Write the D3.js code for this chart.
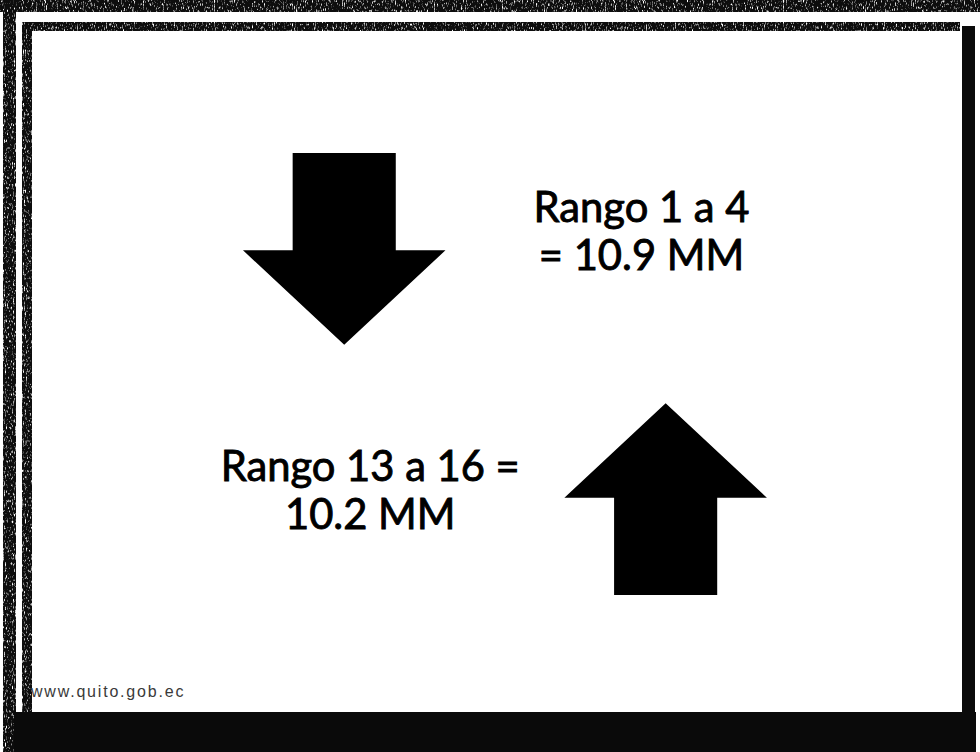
<!DOCTYPE html>
<html>
<head>
<meta charset="utf-8">
<script src="https://cdn.jsdelivr.net/npm/d3@7"></script>
<style>
  html, body { margin: 0; padding: 0; background: #fff; }
  svg { display: block; }
</style>
</head>
<body>
<script>
var width = 980;
var height = 752;

// slide content
var ranges = ['1 a 4', '13 a 16'];
var amounts = [10.9, 10.2];
var directions = ['down', 'up'];
var footer = 'www.quito.gob.ec';

var svg = d3.select('body')
    .append('svg')
    .attr('width', width)
    .attr('height', height);

// scanned-paper speckle
var defs = svg.append('defs');
var filt = defs.append('filter').attr('id', 'scan')
    .attr('x', 0).attr('y', 0).attr('width', 1).attr('height', 1);
filt.append('feTurbulence')
    .attr('type', 'fractalNoise')
    .attr('baseFrequency', '0.9 0.3')
    .attr('numOctaves', 2)
    .attr('seed', 4)
    .attr('result', 'n');
filt.append('feColorMatrix')
    .attr('in', 'n')
    .attr('type', 'matrix')
    .attr('values', '0 0 0 0 0  0 0 0 0 0  0 0 0 0 0  0 0 0 -4 3.2')
    .attr('result', 'm');
filt.append('feComposite')
    .attr('in', 'SourceGraphic')
    .attr('in2', 'm')
    .attr('operator', 'in');

svg.append('rect')
    .attr('width', width)
    .attr('height', height)
    .attr('fill', '#fff');

// frame of the scanned slide
var frame = svg.append('g').attr('class', 'frame');
[
  {x: 0, y: 0, w: width, h: 12, noisy: true},
  {x: 3, y: 0, w: 13, h: height, noisy: true},
  {x: 22, y: 22, w: 938, h: 9, noisy: true},
  {x: 22, y: 22, w: 10, h: 692, noisy: true},
  {x: 962, y: 26, w: 13, h: 690, noisy: false},
  {x: 14, y: 712, w: 962, h: 40, noisy: false}
].forEach(function(b) {
  frame.append('rect')
      .attr('x', b.x).attr('y', b.y)
      .attr('width', b.w).attr('height', b.h)
      .attr('fill', '#0a0a0a')
      .attr('filter', b.noisy ? 'url(#scan)' : null);
});

// layout scales (slide -> pixels)
var sx = d3.scaleLinear().domain([0, 1]).range([33, 962]);
var sy = d3.scaleLinear().domain([0, 1]).range([32, 712]);

var arrowW = sx(0.218) - sx(0);
var shaftW = sx(0.111) - sx(0);
var headH = sy(0.139) - sy(0);
var shaftH = sy(0.143) - sy(0);

var arrowCx = [sx(0.335), sx(0.681)];
var arrowTop = [sy(0.178), sy(0.546)];

function arrowPath(dir, cx, top) {
  var p = d3.path();
  var hw = arrowW / 2, sw = shaftW / 2, total = headH + shaftH;
  if (dir === 'down') {
    p.moveTo(cx - sw, top);
    p.lineTo(cx + sw, top);
    p.lineTo(cx + sw, top + shaftH);
    p.lineTo(cx + hw, top + shaftH);
    p.lineTo(cx, top + total);
    p.lineTo(cx - hw, top + shaftH);
    p.lineTo(cx - sw, top + shaftH);
  } else {
    p.moveTo(cx, top);
    p.lineTo(cx + hw, top + headH);
    p.lineTo(cx + sw, top + headH);
    p.lineTo(cx + sw, top + total);
    p.lineTo(cx - sw, top + total);
    p.lineTo(cx - sw, top + headH);
    p.lineTo(cx - hw, top + headH);
  }
  p.closePath();
  return p.toString();
}

svg.selectAll('path.arrow')
    .data(directions)
    .enter()
    .append('path')
    .attr('class', 'arrow')
    .attr('d', function(d, i) { return arrowPath(d, arrowCx[i], arrowTop[i]); })
    .attr('fill', '#000');

// labels
var fmt = d3.format('.1f');
var labelLines = [
  ['Rango ' + ranges[0], '= ' + fmt(amounts[0]) + ' MM'],
  ['Rango ' + ranges[1] + ' =', fmt(amounts[1]) + ' MM']
];
var labelCx = [sx(0.655), sx(0.363)];
var labelBase = [sy(0.279), sy(0.661)];
var lineGap = 48;

var labels = svg.selectAll('g.label')
    .data(labelLines)
    .enter().append('g')
    .attr('class', 'label');

labels.selectAll('text')
    .data(function(d, i) { return d.map(function(t) { return {t: t, i: i}; }); })
    .enter().append('text')
    .attr('x', function(d) { return labelCx[d.i]; })
    .attr('y', function(d, j) { return labelBase[d.i] + j * lineGap; })
    .attr('text-anchor', 'middle')
    .style('font-family', 'Lato, "Open Sans", sans-serif')
    .style('font-size', '40px')
    .style('fill', '#000')
    .style('stroke', '#000')
    .style('stroke-width', 0.9)
    .text(function(d) { return d.t; });

// fit font to the width of the first line in the scan
var first = labels.select('text').node();
var w0 = first.getComputedTextLength();
var fs = 40 * 216 / w0;
labels.selectAll('text').style('font-size', fs + 'px');

svg.append('text')
    .attr('x', 31)
    .attr('y', 697)
    .style('font-family', '"Liberation Sans", Arial, sans-serif')
    .style('font-size', '16px')
    .style('letter-spacing', '1.8px')
    .style('fill', '#3a3a3a')
    .text(footer);
</script>
</body>
</html>
